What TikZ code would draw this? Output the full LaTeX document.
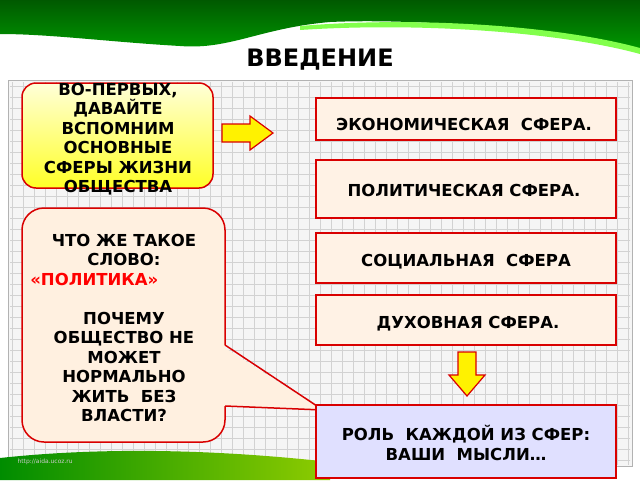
\documentclass[tikz,border=0pt]{standalone}
\usepackage{fontspec}
\setmainfont{DejaVu Sans}
\begin{document}
\begin{tikzpicture}[x=1pt,y=-1pt,
  txt/.style={font=\bfseries\fontsize{16.5}{19.5}\selectfont,align=center,text=black},
  box/.style={draw=red!85!black,line width=1.5pt,fill=#1},
  arr/.style={draw=red!85!black,line width=1.2pt,fill=yellow}]
\useasboundingbox (0,0) rectangle (640,480);
\fill[white] (0,0) rectangle (640,480);
% banner
\shade[top color=green!35!black,bottom color=green!60!black]
  (0,0) -- (640,0) -- (640,50) .. controls (560,30) and (420,18) .. (330,22)
  .. controls (260,28) and (230,50) .. (180,46) .. controls (110,42) and (50,34) .. (0,34) -- cycle;
\fill[green!70!yellow!70] (300,26) .. controls (420,16) and (560,26) .. (640,48) -- (640,54)
  .. controls (560,32) and (420,22) .. (300,30) -- cycle;
\node[font=\bfseries\fontsize{24}{26}\selectfont] (title) at (320,60) {ВВЕДЕНИЕ};
% panel with grid
\fill[gray!8] (8,80) rectangle (632,466);
\begin{scope}
\clip (10,82) rectangle (630,464);
\foreach \x in {12,23,...,632} \draw[gray!35,line width=0.4pt] (\x,80) -- (\x,466);
\foreach \y in {86,97,...,466} \draw[gray!35,line width=0.4pt] (8,\y) -- (632,\y);
\end{scope}
\draw[gray!60,line width=1pt] (8,80) rectangle (632,466);
% grass
\shade[left color=green!55!black,right color=green!30!yellow!80!black]
  (0,480) -- (0,458) .. controls (120,445) and (240,452) .. (330,462) -- (330,480) -- cycle;
\node[font=\fontsize{6}{7}\selectfont,text=gray!40,anchor=west] (url) at (14,462) {http://aida.ucoz.ru};
% yellow box
\shade[top color=yellow!15,bottom color=yellow!85,draw=red!85!black,line width=1.5pt,rounded corners=14]
  (22,83) rectangle (213,188);
\node[txt] (b1) at (118,139) {ВО-ПЕРВЫХ,\\ДАВАЙТЕ\\ВСПОМНИМ\\ОСНОВНЫЕ\\СФЕРЫ ЖИЗНИ\\ОБЩЕСТВА};
% callout
\path[box=orange!12,rounded corners=22] (225,345) -- (225,208) -- (22,208) -- (22,442) -- (225,442) -- (225,406);
\fill[orange!12] (222,346) -- (322,410) -- (222,406) -- cycle;
\draw[red!85!black,line width=1.5pt] (225,345) -- (323,410) -- (225,406);
\node[txt] (c1) at (124,328) {ЧТО ЖЕ ТАКОЕ\\СЛОВО:\\\hspace*{-3.6em}\textcolor{red}{«ПОЛИТИКА»}\\[19.5pt]ПОЧЕМУ\\ОБЩЕСТВО НЕ\\МОЖЕТ\\НОРМАЛЬНО\\ЖИТЬ~~БЕЗ\\ВЛАСТИ?};
% arrows
\draw[arr] (222,124) -- (250,124) -- (250,116) -- (273,133) -- (250,150) -- (250,142) -- (222,142) -- cycle;
\draw[arr] (458,352) -- (476,352) -- (476,375) -- (485,375) -- (467,396) -- (449,375) -- (458,375) -- cycle;
% right boxes
\draw[box=orange!10] (316,98) rectangle (616,140);
\node[txt] (e) at (464,124) {ЭКОНОМИЧЕСКАЯ~~СФЕРА.};
\draw[box=orange!10] (316,160) rectangle (616,218);
\node[txt] (p) at (464,190) {ПОЛИТИЧЕСКАЯ СФЕРА.};
\draw[box=orange!10] (316,233) rectangle (616,283);
\node[txt] (s) at (466,262) {СОЦИАЛЬНАЯ~~СФЕРА};
\draw[box=orange!10] (316,295) rectangle (616,345);
\node[txt] (d) at (468,324) {ДУХОВНАЯ СФЕРА.};
\draw[box=blue!12] (316,405) rectangle (616,478);
\node[txt] (r) at (466,443) {РОЛЬ~~КАЖДОЙ ИЗ СФЕР:\\ВАШИ~~МЫСЛИ…};
\end{tikzpicture}
\end{document}
